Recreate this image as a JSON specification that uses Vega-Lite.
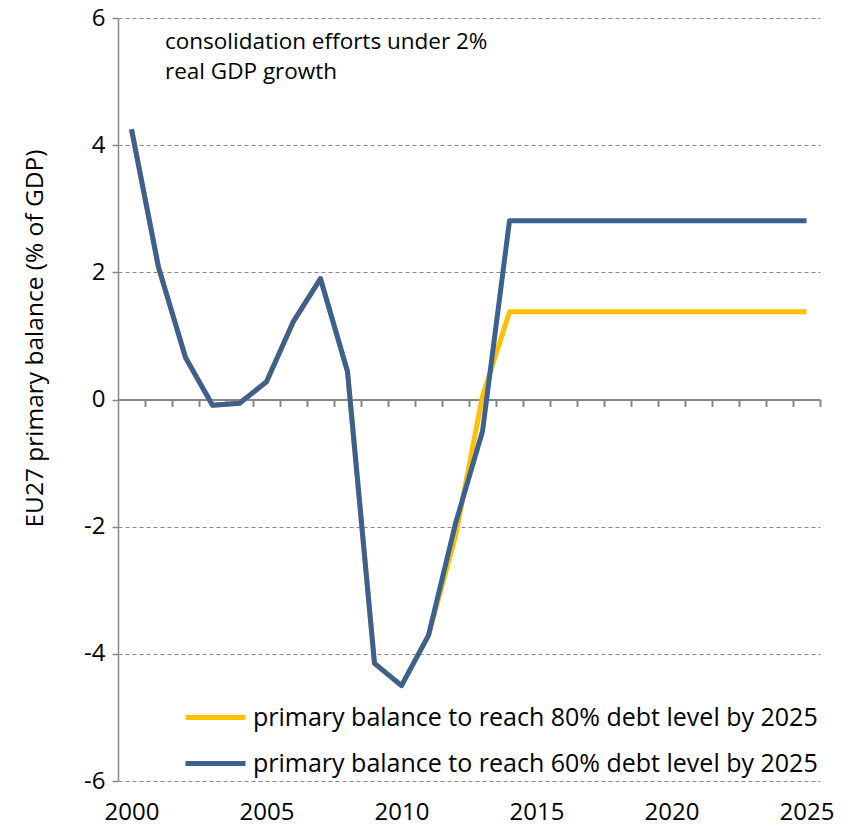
{
  "$schema": "https://vega.github.io/schema/vega-lite/v6.json",
  "width": 702,
  "height": 763,
  "autosize": {"type": "none"},
  "padding": {"left": 118, "top": 18, "right": 30, "bottom": 57},
  "config": {
    "font": "Open Sans",
    "view": {"stroke": null},
    "axis": {"labelColor": "#000000", "titleColor": "#000000", "titleFontWeight": "normal"}
  },
  "data": {
    "values": [
      {"year": 2000, "value": 4.25, "series": "primary balance to reach 80% debt level by 2025"},
      {"year": 2001, "value": 2.08, "series": "primary balance to reach 80% debt level by 2025"},
      {"year": 2002, "value": 0.66, "series": "primary balance to reach 80% debt level by 2025"},
      {"year": 2003, "value": -0.09, "series": "primary balance to reach 80% debt level by 2025"},
      {"year": 2004, "value": -0.06, "series": "primary balance to reach 80% debt level by 2025"},
      {"year": 2005, "value": 0.28, "series": "primary balance to reach 80% debt level by 2025"},
      {"year": 2006, "value": 1.23, "series": "primary balance to reach 80% debt level by 2025"},
      {"year": 2007, "value": 1.9, "series": "primary balance to reach 80% debt level by 2025"},
      {"year": 2008, "value": 0.44, "series": "primary balance to reach 80% debt level by 2025"},
      {"year": 2009, "value": -4.15, "series": "primary balance to reach 80% debt level by 2025"},
      {"year": 2010, "value": -4.5, "series": "primary balance to reach 80% debt level by 2025"},
      {"year": 2011, "value": -3.71, "series": "primary balance to reach 80% debt level by 2025"},
      {"year": 2012, "value": -2.15, "series": "primary balance to reach 80% debt level by 2025"},
      {"year": 2013, "value": 0.05, "series": "primary balance to reach 80% debt level by 2025"},
      {"year": 2014, "value": 1.38, "series": "primary balance to reach 80% debt level by 2025"},
      {"year": 2015, "value": 1.38, "series": "primary balance to reach 80% debt level by 2025"},
      {"year": 2016, "value": 1.38, "series": "primary balance to reach 80% debt level by 2025"},
      {"year": 2017, "value": 1.38, "series": "primary balance to reach 80% debt level by 2025"},
      {"year": 2018, "value": 1.38, "series": "primary balance to reach 80% debt level by 2025"},
      {"year": 2019, "value": 1.38, "series": "primary balance to reach 80% debt level by 2025"},
      {"year": 2020, "value": 1.38, "series": "primary balance to reach 80% debt level by 2025"},
      {"year": 2021, "value": 1.38, "series": "primary balance to reach 80% debt level by 2025"},
      {"year": 2022, "value": 1.38, "series": "primary balance to reach 80% debt level by 2025"},
      {"year": 2023, "value": 1.38, "series": "primary balance to reach 80% debt level by 2025"},
      {"year": 2024, "value": 1.38, "series": "primary balance to reach 80% debt level by 2025"},
      {"year": 2025, "value": 1.38, "series": "primary balance to reach 80% debt level by 2025"},
      {"year": 2000, "value": 4.25, "series": "primary balance to reach 60% debt level by 2025"},
      {"year": 2001, "value": 2.08, "series": "primary balance to reach 60% debt level by 2025"},
      {"year": 2002, "value": 0.66, "series": "primary balance to reach 60% debt level by 2025"},
      {"year": 2003, "value": -0.09, "series": "primary balance to reach 60% debt level by 2025"},
      {"year": 2004, "value": -0.06, "series": "primary balance to reach 60% debt level by 2025"},
      {"year": 2005, "value": 0.28, "series": "primary balance to reach 60% debt level by 2025"},
      {"year": 2006, "value": 1.23, "series": "primary balance to reach 60% debt level by 2025"},
      {"year": 2007, "value": 1.9, "series": "primary balance to reach 60% debt level by 2025"},
      {"year": 2008, "value": 0.44, "series": "primary balance to reach 60% debt level by 2025"},
      {"year": 2009, "value": -4.15, "series": "primary balance to reach 60% debt level by 2025"},
      {"year": 2010, "value": -4.5, "series": "primary balance to reach 60% debt level by 2025"},
      {"year": 2011, "value": -3.71, "series": "primary balance to reach 60% debt level by 2025"},
      {"year": 2012, "value": -1.95, "series": "primary balance to reach 60% debt level by 2025"},
      {"year": 2013, "value": -0.5, "series": "primary balance to reach 60% debt level by 2025"},
      {"year": 2014, "value": 2.81, "series": "primary balance to reach 60% debt level by 2025"},
      {"year": 2015, "value": 2.81, "series": "primary balance to reach 60% debt level by 2025"},
      {"year": 2016, "value": 2.81, "series": "primary balance to reach 60% debt level by 2025"},
      {"year": 2017, "value": 2.81, "series": "primary balance to reach 60% debt level by 2025"},
      {"year": 2018, "value": 2.81, "series": "primary balance to reach 60% debt level by 2025"},
      {"year": 2019, "value": 2.81, "series": "primary balance to reach 60% debt level by 2025"},
      {"year": 2020, "value": 2.81, "series": "primary balance to reach 60% debt level by 2025"},
      {"year": 2021, "value": 2.81, "series": "primary balance to reach 60% debt level by 2025"},
      {"year": 2022, "value": 2.81, "series": "primary balance to reach 60% debt level by 2025"},
      {"year": 2023, "value": 2.81, "series": "primary balance to reach 60% debt level by 2025"},
      {"year": 2024, "value": 2.81, "series": "primary balance to reach 60% debt level by 2025"},
      {"year": 2025, "value": 2.81, "series": "primary balance to reach 60% debt level by 2025"}
    ]
  },
  "layer": [
    {
      "mark": {"type": "line", "strokeWidth": 5, "strokeJoin": "round"},
      "encoding": {
        "x": {
          "field": "year",
          "type": "quantitative",
          "scale": {"domain": [1999.5, 2025.5], "nice": false, "zero": false},
          "axis": {
            "orient": "bottom",
            "values": [2000, 2005, 2010, 2015, 2020, 2025],
            "format": "d",
            "title": null,
            "domain": false,
            "ticks": false,
            "grid": false,
            "labelFontSize": 24,
            "labelPadding": 19
          }
        },
        "y": {
          "field": "value",
          "type": "quantitative",
          "scale": {"domain": [-6, 6], "nice": false},
          "axis": {
            "values": [-6, -4, -2, 0, 2, 4, 6],
            "labelExpr": "'' + datum.value",
            "title": "EU27 primary balance (% of GDP)",
            "titleFontSize": 24.5,
            "titlePadding": 36,
            "titleY": 320,
            "labelFontSize": 24,
            "labelPadding": 7,
            "domainColor": "#868686",
            "domainWidth": 1.5,
            "tickColor": "#868686",
            "tickSize": 6,
            "tickWidth": 1.5,
            "grid": true,
            "gridColor": "#888888",
            "gridDash": [4, 3],
            "gridWidth": 1.2
          }
        },
        "color": {
          "field": "series",
          "type": "nominal",
          "scale": {
            "domain": ["primary balance to reach 80% debt level by 2025", "primary balance to reach 60% debt level by 2025"],
            "range": ["#FFC000", "#3B6192"]
          },
          "legend": {
            "orient": "none",
            "legendX": 65,
            "legendY": 667,
            "title": null,
            "symbolType": "stroke",
            "symbolSize": 3600,
            "symbolStrokeWidth": 5,
            "labelFontSize": 25,
            "labelLimit": 0,
            "labelOffset": 5,
            "rowPadding": -11,
            "labelColor": "#000000"
          }
        }
      }
    },
    {
      "data": {"values": [{"note": "annotation"}]},
      "mark": {"type": "text", "align": "left", "baseline": "middle", "fontSize": 22.5, "lineHeight": 30, "color": "#000000"},
      "encoding": {
        "x": {
          "datum": 2001.24,
          "type": "quantitative",
          "axis": {
            "orient": "bottom",
            "offset": -381.5,
            "values": [2000.5, 2001.5, 2002.5, 2003.5, 2004.5, 2005.5, 2006.5, 2007.5, 2008.5, 2009.5, 2010.5, 2011.5, 2012.5, 2013.5, 2014.5, 2015.5, 2016.5, 2017.5, 2018.5, 2019.5, 2020.5, 2021.5, 2022.5, 2023.5, 2024.5, 2025.5],
            "labels": false,
            "title": null,
            "grid": false,
            "domain": true,
            "domainColor": "#868686",
            "domainWidth": 2,
            "tickColor": "#868686",
            "tickSize": 7,
            "tickWidth": 2
          }
        },
        "y": {"datum": 5.63, "type": "quantitative"},
        "text": {"value": ["consolidation efforts under 2%", "real GDP growth"]}
      }
    }
  ],
  "resolve": {"axis": {"x": "independent"}}
}
